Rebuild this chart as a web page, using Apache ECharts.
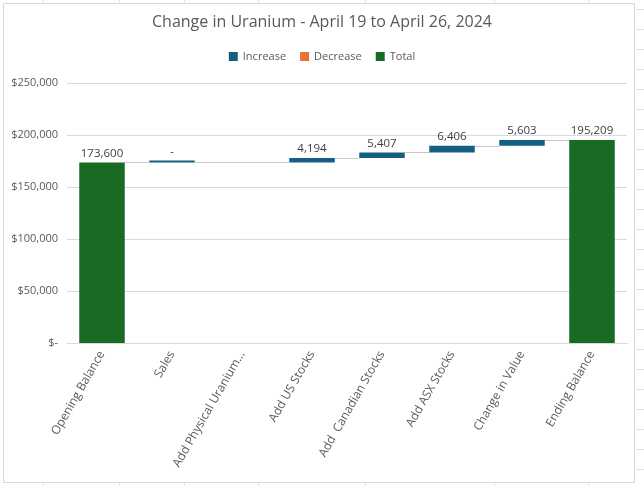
<!DOCTYPE html>
<html><head><meta charset="utf-8">
<script src="https://cdn.jsdelivr.net/npm/echarts@6/dist/echarts.min.js"></script>
<style>html,body{margin:0;padding:0;background:#fff}#c{width:644px;height:486px}</style>
</head><body><div id="c"></div>
<script>
// ---- data ----
const categories = ['Opening Balance', 'Sales', 'Add Physical Uranium...', 'Add US Stocks', 'Add  Canadian Stocks', 'Add ASX Stocks', 'Change in Value', 'Ending Balance'];
const increase = [null, 0, null, 4194, 5407, 6406, 5603, null];
const decrease = [null, null, null, null, null, null, null, null];
const total = [173600, null, null, null, null, null, null, 195209];
const yMin = 0, yMax = 250000, yStep = 50000;
const seriesNames = ['Increase', 'Decrease', 'Total'];

// ---- derived waterfall base & connectors ----
const base = [];
const levels = [];
let level = 0;
for (let i = 0; i < categories.length; i++) {
  if (total[i] != null) { base.push(0); level = total[i]; levels.push(level); }
  else if (increase[i] != null) { base.push(level); level += increase[i]; levels.push(level); }
  else if (decrease[i] != null) { level -= decrease[i]; base.push(level); levels.push(level); }
  else { base.push(null); levels.push(null); }
}
const connectors = [];
for (let i = 0; i < categories.length; i++) {
  if (levels[i] == null) continue;
  let j = i + 1;
  while (j < categories.length && levels[j] == null) j++;
  if (j < categories.length) connectors.push([i, j, levels[i]]);
}

const FONT = 'Open Sans';
const TXT = '#595959';
const GAP = 0.35;

const chart = echarts.init(document.getElementById('c'), null, {renderer: 'canvas'});

// spreadsheet backdrop decoration
const deco = [];
[43, 119, 184, 258, 365, 494, 588].forEach(x => {
  deco.push({type: 'line', shape: {x1: x + 0.5, y1: 0, x2: x + 0.5, y2: 3}, style: {stroke: '#E1E1E1', lineWidth: 1}, z: -1});
  deco.push({type: 'line', shape: {x1: x + 0.5, y1: 483, x2: x + 0.5, y2: 486}, style: {stroke: '#E1E1E1', lineWidth: 1}, z: -1});
});
for (let y = 9; y < 486; y += 20) {
  deco.push({type: 'line', shape: {x1: 636, y1: y + 0.5, x2: 644, y2: y + 0.5}, style: {stroke: '#E1E1E1', lineWidth: 1}, z: -1});
}
deco.push({type: 'rect', shape: {x: 3.5, y: 3.5, width: 631, height: 479}, style: {fill: 'none', stroke: '#D9D9D9', lineWidth: 1}, z: -1});

chart.setOption({
  animation: false,
  backgroundColor: '#ffffff',
  textStyle: {fontFamily: FONT},
  graphic: deco,
  title: {
    text: 'Change in Uranium - April 19 to April 26, 2024',
    left: 'center', top: 9,
    textStyle: {fontFamily: FONT, fontSize: 16, fontWeight: 'normal', color: TXT}
  },
  legend: {
    data: seriesNames,
    top: 46, left: 'center',
    itemWidth: 9, itemHeight: 9, itemGap: 14,
    icon: 'rect',
    textStyle: {fontFamily: FONT, fontSize: 11, color: TXT}
  },
  grid: {left: 67, right: 17, top: 83, bottom: 143},
  xAxis: {
    type: 'category',
    data: categories,
    axisLine: {lineStyle: {color: '#D9D9D9'}},
    axisTick: {show: false},
    axisLabel: {rotate: 60, interval: 0, margin: 9, fontFamily: FONT, fontSize: 12, color: TXT}
  },
  yAxis: {
    type: 'value',
    min: yMin, max: yMax, interval: yStep,
    axisLine: {show: false},
    axisTick: {show: false},
    splitLine: {lineStyle: {color: '#D9D9D9'}},
    axisLabel: {
      margin: 9, fontFamily: FONT, fontSize: 11, color: TXT,
      formatter: v => v === 0 ? '$-' : '$' + v.toLocaleString('en-US')
    }
  },
  series: [
    {
      name: 'Helper', type: 'bar', stack: 'w', data: base,
      barCategoryGap: (GAP * 100) + '%',
      itemStyle: {color: 'transparent'}, emphasis: {disabled: true}, silent: true
    },
    {
      name: 'Increase', type: 'bar', stack: 'w', data: increase,
      barMinHeight: 2,
      itemStyle: {color: '#156082'},
      label: {show: true, position: 'top', distance: 3, fontFamily: FONT, fontSize: 11.5, color: '#404040',
        formatter: p => p.value === 0 ? '-' : Number(p.value).toLocaleString('en-US')}
    },
    {
      name: 'Decrease', type: 'bar', stack: 'w', data: decrease,
      itemStyle: {color: '#E97132'},
      label: {show: true, position: 'top', fontFamily: FONT, fontSize: 11.5, color: '#404040',
        formatter: p => Number(p.value).toLocaleString('en-US')}
    },
    {
      name: 'Total', type: 'bar', stack: 'w', data: total,
      itemStyle: {color: '#196B24'},
      label: {show: true, position: 'top', distance: 3, fontFamily: FONT, fontSize: 11.5, color: '#404040',
        formatter: p => Number(p.value).toLocaleString('en-US')}
    },
    {
      name: 'Connector', type: 'custom', data: connectors, silent: true, z: 1,
      encode: {x: 0, y: 2},
      renderItem: function (params, api) {
        const i = api.value(0), j = api.value(1), v = api.value(2);
        const p1 = api.coord([i, v]), p2 = api.coord([j, v]);
        const hw = api.size([1, 0])[0] * (1 - GAP) / 2;
        const y = Math.round(p1[1]) + 0.5;
        return {type: 'line', shape: {x1: p1[0] + hw, y1: y, x2: p2[0] - hw, y2: y},
          style: {stroke: '#C8C8C8', lineWidth: 1}};
      }
    }
  ]
});
</script>
</body></html>
